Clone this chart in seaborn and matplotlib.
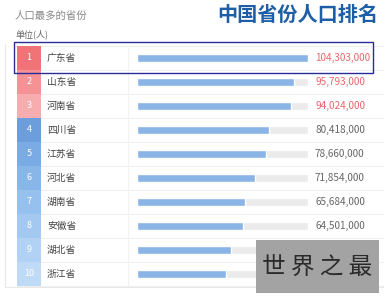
import matplotlib
matplotlib.use("Agg")
import matplotlib.pyplot as plt
import seaborn as sns
import pandas as pd
from matplotlib.patches import Rectangle

sns.set_theme(style="white")
plt.rcParams['font.family'] = ['Noto Sans CJK SC', 'DejaVu Sans']

# ---- data ----
ranks = ["1", "2", "3", "4", "5", "6", "7", "8", "9", "10"]
provinces = ["广东省", "山东省", "河南省", "四川省", "江苏省", "河北省", "湖南省", "安徽省", "湖北省", "浙江省"]
population = [104303000, 95793000, 94024000, 80418000, 78660000, 71854000, 65684000, 64501000, 57237000, 54427000]
# the last two value labels are hidden under the watermark in the reference
value_labels = ["104,303,000", "95,793,000", "94,024,000", "80,418,000", "78,660,000",
                "71,854,000", "65,684,000", "64,501,000"]
rank_colors = ["#f07378", "#f49295", "#f7adb0", "#6c9edc", "#7aabe4", "#88b6e9",
               "#96c0ee", "#a4c9f1", "#b1d2f4", "#bfdaf6"]

df = pd.DataFrame({"province": provinces, "population": population})

W, H = 384, 300
fig = plt.figure(figsize=(W / 100, H / 100), dpi=100)
fig.patch.set_facecolor("white")

# overlay axes in pixel coordinates
ov = fig.add_axes([0, 0, 1, 1])
ov.set_xlim(0, W)
ov.set_ylim(H, 0)
ov.axis("off")

row_top0 = 46
row_h = 24
n = len(provinces)

# outer light frame
ov.plot([5, 5], [44, 287], color="#e8e8e8", lw=0.8)
ov.plot([5, 384], [287, 287], color="#e8e8e8", lw=0.8)

# row separators and column divider
for i in range(n + 1):
    y = row_top0 + i * row_h
    ov.plot([17, 384], [y, y], color="#f0f0f0", lw=0.8, zorder=1)
ov.plot([128, 128], [row_top0, row_top0 + n * row_h], color="#f2f2f2", lw=0.8)

for i in range(n):
    top = row_top0 + i * row_h
    cy = top + row_h / 2
    ov.add_patch(Rectangle((17, top), 24, row_h, facecolor=rank_colors[i], edgecolor="none", zorder=2))
    ov.text(29, cy, ranks[i], ha="center", va="center", color="white", fontsize=6.5, zorder=3)
    ov.text(47, cy, provinces[i], ha="left", va="center", color="#444444", fontsize=7)
for i, lab in enumerate(value_labels):
    cy = row_top0 + i * row_h + row_h / 2
    ov.text(315, cy, lab, ha="left", va="center",
            color="#e8666b" if i < 3 else "#666666", fontsize=7.2)

# titles
ov.text(15, 16, "人口最多的省份", ha="left", va="center", color="#888888", fontsize=7.5)
ov.text(15, 34, "单位(人)", ha="left", va="center", color="#666666", fontsize=6.5)
ov.text(378, 14, "中国省份人口排名", ha="right", va="center", color="#1d5ea6",
        fontsize=14.5, fontweight="bold")

# highlight rectangle
ov.add_patch(Rectangle((14, 42), 359, 31, facecolor="none", edgecolor="#2b2b9a", lw=1.0, zorder=5))

# bar axes
ax = fig.add_axes([137 / W, (H - (row_top0 + n * row_h)) / H, 171 / W, n * row_h / H])
ax.patch.set_alpha(0)
xmax = max(population)
sns.barplot(x=[xmax] * n, y=provinces, orient="h", color="#ebebeb", width=0.3,
            ax=ax, saturation=1)
sns.barplot(data=df, x="population", y="province", orient="h", color="#8ab4e6",
            width=0.3, ax=ax, saturation=1)
ax.set_xlim(0, xmax)
ax.set_ylim(n - 0.5, -0.5)
ax.axis("off")

# watermark
ov2 = fig.add_axes([0, 0, 1, 1])
ov2.set_xlim(0, W)
ov2.set_ylim(H, 0)
ov2.axis("off")
ov2.patch.set_alpha(0)
ov2.add_patch(Rectangle((256, 240), 123, 53, facecolor="#a3a3a3", edgecolor="none"))
ov2.text(317.5, 267, "世 界 之 最", ha="center", va="center", color="#2a2a2a", fontsize=17)

fig.savefig("out.png", dpi=100, facecolor="white")
